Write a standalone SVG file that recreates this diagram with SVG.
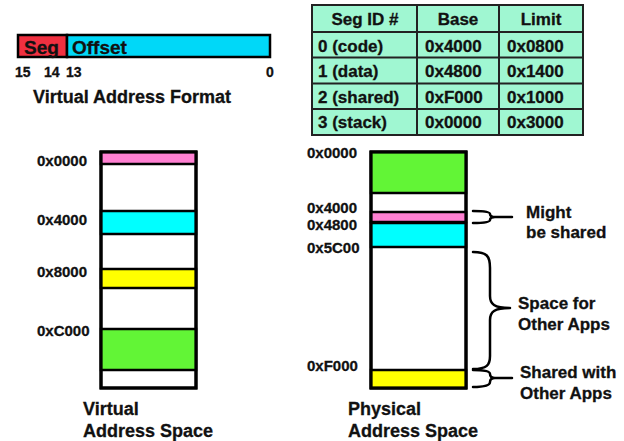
<svg xmlns="http://www.w3.org/2000/svg" width="624" height="441" viewBox="0 0 624 441">
  <style>
    text { font-family: "Liberation Sans", Arial, sans-serif; font-weight: bold; fill: #111; stroke: #111; stroke-width: 0.3px; }
    .addr { font-size: 15px; }
    .bits { font-size: 14px; }
    .title { font-size: 18px; }
    .cell { font-size: 17px; }
    .note { font-size: 17px; }
    .box { stroke: #000; stroke-width: 3; }
    .seg { stroke: #000; stroke-width: 2.5; }
    .grid { stroke: #222; stroke-width: 2; fill: none; }
    .brace { fill: none; stroke: #000; stroke-width: 2.5; stroke-linecap: round; stroke-linejoin: round; }
  </style>

  <!-- address format bar -->
  <g id="addr-format">
    <rect x="18" y="35" width="49" height="22" fill="#f03040" class="seg"/>
    <rect x="67" y="35" width="203" height="22" fill="#00d8f8" class="seg"/>
    <text x="24" y="54" style="font-size:19px">Seg</text>
    <text x="72" y="54" style="font-size:19px">Offset</text>
    <text class="bits" x="15" y="77">15</text>
    <text class="bits" x="44" y="77">14</text>
    <text class="bits" x="66" y="77">13</text>
    <text class="bits" x="266" y="77">0</text>
    <text class="title" x="33" y="103">Virtual Address Format</text>
  </g>

  <!-- segment table -->
  <g id="seg-table">
    <rect x="312" y="5" width="271" height="130" fill="#a0f7d2"/>
    <path class="grid" d="M312 5H583V135H312Z M312 32H583 M312 57.5H583 M312 83.5H583 M312 109H583 M417 5V135 M499 5V135"/>
    <g class="cell" text-anchor="middle">
      <text x="365" y="25">Seg ID #</text>
      <text x="458" y="25">Base</text>
      <text x="541" y="25">Limit</text>
    </g>
    <g class="cell">
      <text x="318" y="52">0 (code)</text>
      <text x="318" y="77">1 (data)</text>
      <text x="318" y="103">2 (shared)</text>
      <text x="318" y="128">3 (stack)</text>
      <text x="425" y="52">0x4000</text>
      <text x="425" y="77">0x4800</text>
      <text x="425" y="103">0xF000</text>
      <text x="425" y="128">0x0000</text>
      <text x="507" y="52">0x0800</text>
      <text x="507" y="77">0x1400</text>
      <text x="507" y="103">0x1000</text>
      <text x="507" y="128">0x3000</text>
    </g>
  </g>

  <!-- virtual address space -->
  <g id="virtual-space">
    <rect x="101" y="152" width="95" height="236" fill="#fff" class="box"/>
    <rect x="101" y="152" width="95" height="12" fill="#ff80d2" class="seg"/>
    <rect x="101" y="211" width="95" height="23" fill="#00ffff" class="seg"/>
    <rect x="101" y="269" width="95" height="19" fill="#ffff00" class="seg"/>
    <rect x="101" y="329" width="95" height="41" fill="#62f536" class="seg"/>
    <rect x="101" y="152" width="95" height="236" fill="none" class="box"/>
    <g class="addr">
      <text x="37" y="166">0x0000</text>
      <text x="37" y="225">0x4000</text>
      <text x="37" y="277">0x8000</text>
      <text x="37" y="336">0xC000</text>
    </g>
    <text class="title" x="83" y="415">Virtual</text>
    <text class="title" x="83" y="437">Address Space</text>
  </g>

  <!-- physical address space -->
  <g id="physical-space">
    <rect x="371" y="152" width="95" height="236" fill="#fff" class="box"/>
    <rect x="371" y="152" width="95" height="41" fill="#62f536" class="seg"/>
    <rect x="371" y="212" width="95" height="10" fill="#ff80d2" class="seg"/>
    <rect x="371" y="223" width="95" height="24" fill="#00ffff" class="seg"/>
    <rect x="371" y="370" width="95" height="18" fill="#ffff00" class="seg"/>
    <rect x="371" y="152" width="95" height="236" fill="none" class="box"/>
    <g class="addr">
      <text x="307" y="158">0x0000</text>
      <text x="307" y="213">0x4000</text>
      <text x="307" y="230">0x4800</text>
      <text x="307" y="253">0x5C00</text>
      <text x="307" y="371">0xF000</text>
    </g>
    <text class="title" x="348" y="415">Physical</text>
    <text class="title" x="348" y="437">Address Space</text>
  </g>

  <!-- annotation braces -->
  <g id="connectors">
    <path class="brace" d="M473 211 Q490 211 490 214 Q490 217 495 217 H512 M495 217 Q490 217 490 220 Q490 223 473 223"/>
    <path class="brace" d="M473 252 C487 252 490 256 490 268 V296 C490 304 494 308 510 308 C494 308 490 312 490 320 V356 C490 365 487 369 473 369"/>
    <path class="brace" d="M473 370 Q490 370 490 374 Q490 378 495 378 H512 M495 378 Q490 378 490 382 Q490 387 473 387"/>
  </g>

  <g id="notes" class="note">
    <text x="526" y="218">Might</text>
    <text x="526" y="238">be shared</text>
    <text x="518" y="309">Space for</text>
    <text x="518" y="330">Other Apps</text>
    <text x="520" y="378">Shared with</text>
    <text x="520" y="399">Other Apps</text>
  </g>
</svg>
